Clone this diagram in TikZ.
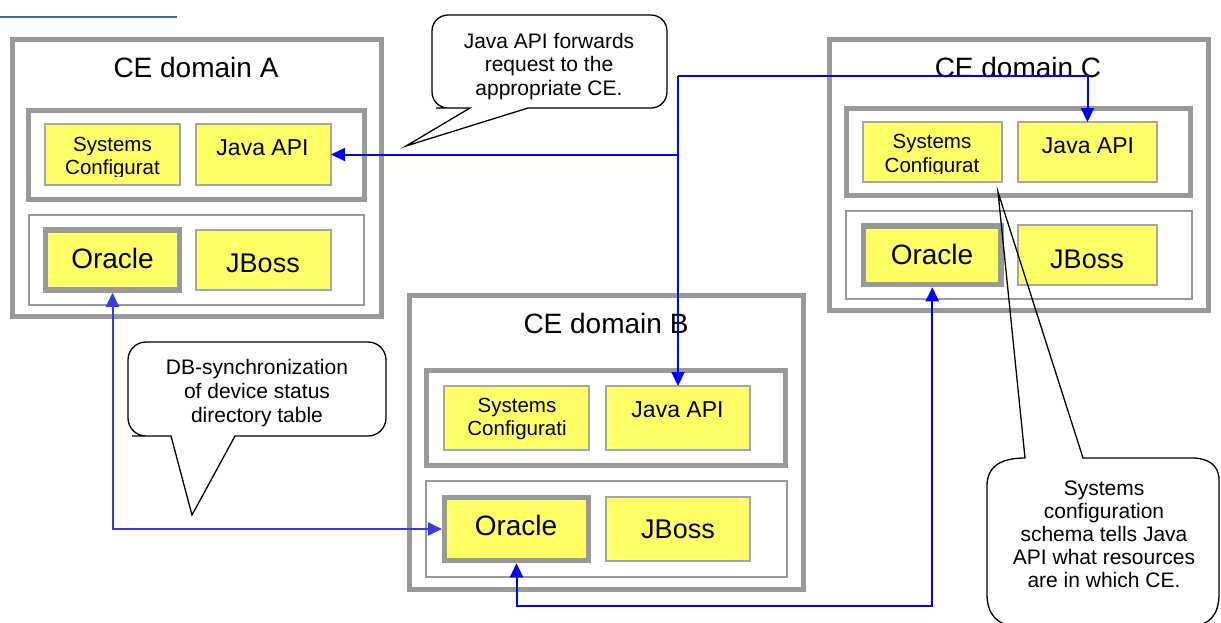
\documentclass[tikz,border=0pt]{standalone}
\usepackage{fontspec}
\setmainfont{Liberation Sans}
\usetikzlibrary{arrows.meta,fit}
\definecolor{boxgray}{HTML}{999999}
\definecolor{compgray}{HTML}{A6A6A6}
\definecolor{compyellow}{HTML}{FFFF66}
\definecolor{linkblue}{HTML}{0000FF}
\definecolor{syncblue}{HTML}{3B3BDB}
\definecolor{topblue}{HTML}{3A68A8}
\begin{document}
\begin{tikzpicture}[x=1pt,y=-1pt,
  every node/.style={inner sep=0pt, outer sep=0pt},
  cedomain/.style={draw=boxgray, line width=5pt, fill=white},
  tierbox/.style={draw=boxgray, line width=5pt},
  tierthin/.style={draw=boxgray, line width=1.5pt},
  compbox/.style={draw=compgray, line width=1.3pt, fill=compyellow},
  dbbox/.style={draw=boxgray, line width=5.5pt, fill=compyellow, outer sep=auto},
  titletext/.style={anchor=base, font=\fontsize{28}{32}\selectfont},
  apitext/.style={anchor=base, font=\fontsize{23}{26}\selectfont},
  sctext/.style={anchor=north, align=center, font=\fontsize{20.5}{23.5}\selectfont},
  dbtext/.style={anchor=base, font=\fontsize{28}{32}\selectfont},
  jbtext/.style={anchor=base, font=\fontsize{27}{30}\selectfont},
  calltext/.style={anchor=north, align=center},
  callshape/.style={draw=black, line width=1.3pt},
  tipA/.tip={Triangle[length=14pt,width=13pt]},
  fwdlink/.style={draw=linkblue, line width=2pt, -tipA},
  twolink/.style={draw=linkblue, line width=2pt, tipA-tipA},
  synclink/.style={draw=syncblue, line width=2pt, tipA-tipA}
]
\useasboundingbox (0,0) rectangle (1221,622);

% top-left rule
\coordinate (ruleL) at (0,17);
\coordinate (ruleR) at (177,17);
\draw[topblue, line width=2pt] (ruleL) -- (ruleR);

% ---------- CE domain A ----------
\node[cedomain, fit={(12,39)(381,316.5)}] (domA) {};
\node[tierbox, fit={(28.5,110)(364.5,199.5)}] (upA) {};
\node[tierthin, fit={(29,215)(364,305)}] (lowA) {};
\node[compbox, fit={(45,124)(180,185)}] (scA) {};
\node[compbox, fit={(196,124)(331,185)}] (javaA) {};
\node[dbbox, fit={(45.5,230)(179.5,290)}] (oraA) {};
\node[compbox, fit={(196,230)(331,290)}] (jbA) {};
\node[titletext] (tA) at (196,77) {CE domain A};
\begin{scope}
  \clip (45,124) rectangle (180,176.5);
  \node[sctext] (scAt) at (112.5,137) {Systems\\Configurat};
\end{scope}
\node[apitext] (javaAt) at (262.5,155) {Java API};
\node[dbtext] (oraAt) at (112.5,268) {Oracle};
\node[jbtext] (jbAt) at (263,272) {JBoss};

% ---------- CE domain C ----------
\node[cedomain, fit={(829.5,39.5)(1208.5,310.5)}] (domC) {};
\node[tierbox, fit={(846.5,108.5)(1190.5,195.5)}] (upC) {};
\node[tierthin, fit={(846,211)(1192,299)}] (lowC) {};
\node[compbox, fit={(863,122)(1002,182)}] (scC) {};
\node[compbox, fit={(1018,122)(1157,182)}] (javaC) {};
\node[dbbox, fit={(863.5,226)(1001,284.5)}] (oraC) {};
\node[compbox, fit={(1018,225)(1157,285)}] (jbC) {};
\node[titletext] (tC) at (1018,77) {CE domain C};
\begin{scope}
  \clip (863,122) rectangle (1002,173.5);
  \node[sctext] (scCt) at (932,134.5) {Systems\\Configurat};
\end{scope}
\node[apitext] (javaCt) at (1088,153) {Java API};
\node[dbtext] (oraCt) at (932,264) {Oracle};
\node[jbtext] (jbCt) at (1087,268) {JBoss};

% ---------- CE domain B ----------
\node[cedomain, fit={(409.5,295.5)(803.5,589.5)}] (domB) {};
\node[tierbox, fit={(426.5,370.5)(785.5,465.5)}] (upB) {};
\node[tierthin, fit={(426,481)(787,577)}] (lowB) {};
\node[compbox, fit={(444,386)(589,450)}] (scB) {};
\node[compbox, fit={(606,386)(750,450)}] (javaB) {};
\node[dbbox, fit={(444.7,497.5)(588.3,560.5)}] (oraB) {};
\node[compbox, fit={(606,497)(750,561)}] (jbB) {};
\node[titletext] (tB) at (606,333) {CE domain B};
\node[sctext] (scBt) at (517,398) {Systems\\Configurati};
\node[apitext] (javaBt) at (677.5,417) {Java API};
\node[dbtext] (oraBt) at (516,535) {Oracle};
\node[jbtext] (jbBt) at (678,538) {JBoss};

% ---------- callouts ----------
\draw[callshape, fill=white] (452,108) -- (470,108) -- (406,146) -- (528,108)
  [rounded corners=16pt] -- (667,108) -- (667,15) -- (432,15) -- (432,108) -- cycle;
\node[calltext, font=\fontsize{21}{23.5}\selectfont] (c1t) at (549,33)
  {Java API forwards\\request to the\\appropriate CE.};

\draw[callshape, fill=white] (150,436) -- (171,436) -- (192,515) -- (235,436)
  [rounded corners=18pt] -- (386,436) -- (386,342) -- (128,342) -- (128,436) -- cycle;
\node[calltext, font=\fontsize{21}{24}\selectfont] (c2t) at (257,359)
  {DB-synchronization\\of device status\\directory table};

\draw[callshape] (1083,458) -- (998,192) -- (1025,458)
  .. controls (1000,458) and (987,467) .. (987,486)
  -- (987,594) .. controls (987,614) and (997,626) .. (1017,626)
  -- (1190,626) .. controls (1210,626) and (1219,614) .. (1219,594)
  -- (1219,480) .. controls (1219,465) and (1208,458) .. (1192,458)
  -- cycle;
\node[calltext, font=\fontsize{21}{23}\selectfont] (c3t) at (1104,481)
  {Systems\\configuration\\schema tells Java\\API what resources\\are in which CE.};

% ---------- connectors ----------
\coordinate (hub) at (678,76);
\draw[fwdlink] (hub |- javaA.east) -- (javaA.east);
\draw[fwdlink] (hub) -- (javaB.north);
\draw[fwdlink] (hub) -| (javaC.north);
\draw[synclink] (oraA.south) |- (oraB.west);
\coordinate (bcline) at (0,606);
\draw[twolink] (oraB.south) -- (oraB.south |- bcline) -| (oraC.south);
\end{tikzpicture}
\end{document}
